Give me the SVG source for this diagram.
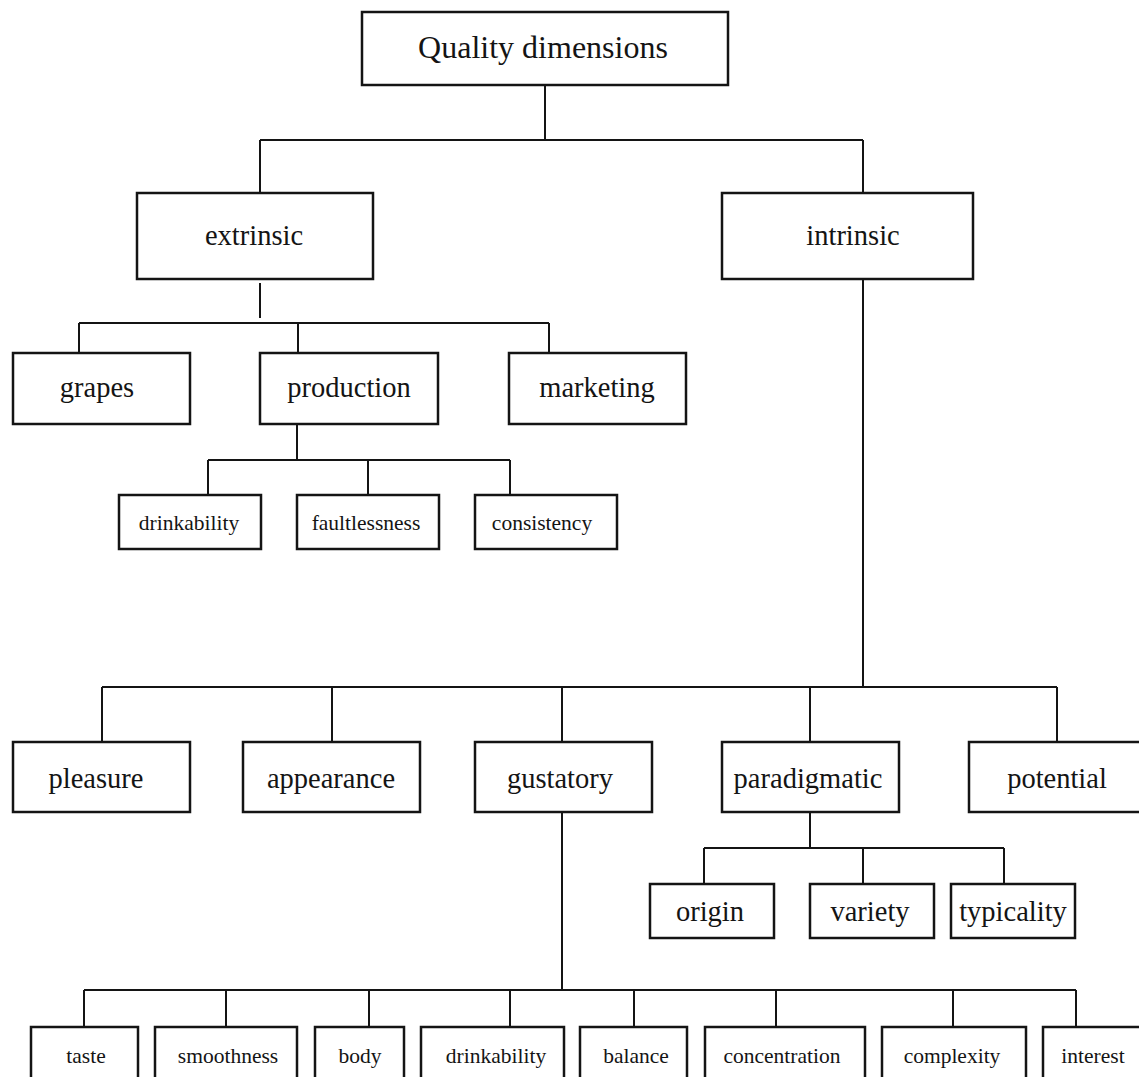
<svg xmlns="http://www.w3.org/2000/svg" width="1139" height="1077" viewBox="0 0 1139 1077">
<style>
  .box { fill: #ffffff; stroke: #141414; stroke-width: 2.5; }
  .con { fill: none; stroke: #141414; stroke-width: 2; }
  text { font-family: "Liberation Serif", "Times New Roman", serif; fill: #141414; text-anchor: middle; }
  .t1 { font-size: 32px; }
  .t2 { font-size: 28.5px; }
  .t3 { font-size: 21.5px; }
</style>
<rect width="1139" height="1077" fill="#ffffff"/>
<g id="connectors">
  <path class="con" d="M545,86 V140 M260,140 H863 M260,140 V193 M863,140 V193"/>
  <path class="con" d="M260,283 V318 M79,323 H549 M79,323 V353 M298,323 V353 M549,323 V353"/>
  <path class="con" d="M297,424 V460 M208,460 H510 M208,460 V495 M368,460 V495 M510,460 V495"/>
  <path class="con" d="M863,279 V687 M102,687 H1057 M102,687 V742 M332,687 V742 M562,687 V742 M810,687 V742 M1057,687 V742"/>
  <path class="con" d="M810,812 V848 M704,848 H1004 M704,848 V884 M863,848 V884 M1004,848 V884"/>
  <path class="con" d="M562,812 V990 M84,990 H1076 M84,990 V1027 M226,990 V1027 M369,990 V1027 M510,990 V1027 M634,990 V1027 M776,990 V1027 M953,990 V1027 M1076,990 V1027"/>
</g>
<g id="quality-dimensions"><rect class="box" x="362" y="12" width="366" height="73"/><text class="t1" x="543" y="58">Quality dimensions</text></g>
<g id="extrinsic"><rect class="box" x="137" y="193" width="236" height="86"/><text class="t2" x="254" y="245">extrinsic</text></g>
<g id="intrinsic"><rect class="box" x="722" y="193" width="251" height="86"/><text class="t2" x="853" y="245">intrinsic</text></g>
<g id="grapes"><rect class="box" x="13" y="353" width="177" height="71"/><text class="t2" x="97" y="397">grapes</text></g>
<g id="production"><rect class="box" x="260" y="353" width="178" height="71"/><text class="t2" x="349" y="397">production</text></g>
<g id="marketing"><rect class="box" x="509" y="353" width="177" height="71"/><text class="t2" x="597" y="397">marketing</text></g>
<g id="drinkability-1"><rect class="box" x="119" y="495" width="142" height="54"/><text class="t3" x="189" y="530">drinkability</text></g>
<g id="faultlessness"><rect class="box" x="297" y="495" width="142" height="54"/><text class="t3" x="366" y="530">faultlessness</text></g>
<g id="consistency"><rect class="box" x="475" y="495" width="142" height="54"/><text class="t3" x="542" y="530">consistency</text></g>
<g id="pleasure"><rect class="box" x="13" y="742" width="177" height="70"/><text class="t2" x="96" y="788">pleasure</text></g>
<g id="appearance"><rect class="box" x="243" y="742" width="177" height="70"/><text class="t2" x="331" y="788">appearance</text></g>
<g id="gustatory"><rect class="box" x="475" y="742" width="177" height="70"/><text class="t2" x="560" y="788">gustatory</text></g>
<g id="paradigmatic"><rect class="box" x="722" y="742" width="177" height="70"/><text class="t2" x="808" y="788">paradigmatic</text></g>
<g id="potential"><rect class="box" x="969" y="742" width="172" height="70"/><text class="t2" x="1057" y="788">potential</text></g>
<g id="origin"><rect class="box" x="650" y="884" width="124" height="54"/><text class="t2" x="710" y="921">origin</text></g>
<g id="variety"><rect class="box" x="810" y="884" width="124" height="54"/><text class="t2" x="870" y="921">variety</text></g>
<g id="typicality"><rect class="box" x="951" y="884" width="124" height="54"/><text class="t2" x="1013" y="921">typicality</text></g>
<g id="taste"><rect class="box" x="31" y="1027" width="107" height="60"/><text class="t3" x="86" y="1063">taste</text></g>
<g id="smoothness"><rect class="box" x="155" y="1027" width="142" height="60"/><text class="t3" x="228" y="1063">smoothness</text></g>
<g id="body"><rect class="box" x="315" y="1027" width="89" height="60"/><text class="t3" x="360" y="1063">body</text></g>
<g id="drinkability-2"><rect class="box" x="421" y="1027" width="143" height="60"/><text class="t3" x="496" y="1063">drinkability</text></g>
<g id="balance"><rect class="box" x="580" y="1027" width="107" height="60"/><text class="t3" x="636" y="1063">balance</text></g>
<g id="concentration"><rect class="box" x="705" y="1027" width="160" height="60"/><text class="t3" x="782" y="1063">concentration</text></g>
<g id="complexity"><rect class="box" x="882" y="1027" width="144" height="60"/><text class="t3" x="952" y="1063">complexity</text></g>
<g id="interest"><rect class="box" x="1043" y="1027" width="100" height="60"/><text class="t3" x="1093" y="1063">interest</text></g>
</svg>
